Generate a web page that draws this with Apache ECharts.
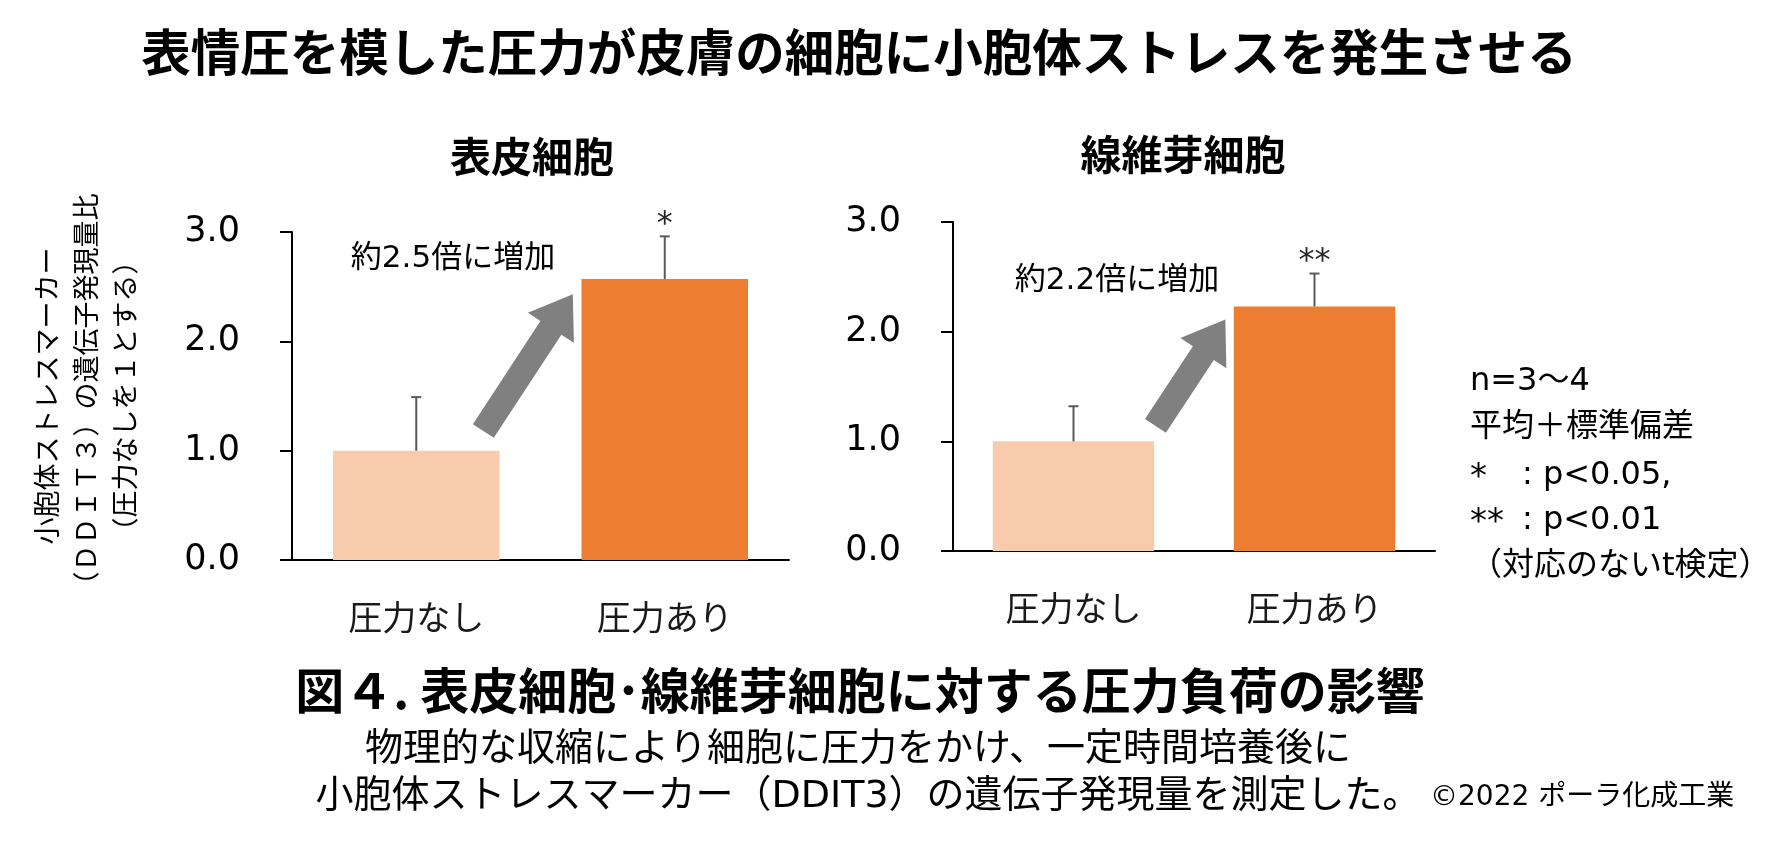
<!DOCTYPE html>
<html>
<head>
<meta charset="utf-8">
<script src="https://cdn.jsdelivr.net/npm/echarts@6/dist/echarts.min.js"></script>
<style>
html, body { margin: 0; padding: 0; background: #fff; }
#main { width: 1786px; height: 846px; }
</style>
</head>
<body>
<div id="main"></div>
<script>
// values
var categories = ['圧力なし', '圧力あり'];
var yTickLabels = ['0.0', '1.0', '2.0', '3.0'];

var epiMean = [1.0, 2.57];
var epiSd = [0.49, 0.39];
var epiMarks = ['', '*'];

var fibMean = [1.0, 2.23];
var fibSd = [0.32, 0.30];
var fibMarks = ['', '**'];

// arrow ends: [offset in bands from first category, value]
var epiArrow = [[0.27, 1.18], [0.63, 2.43]];
var fibArrow = [[0.34, 1.14], [0.63, 2.11]];

var LATIN = 'DejaVu Sans, "Noto Sans CJK JP"';
var CJK = '"Noto Sans CJK JP"';

function barSeries(idx, mean) {
    var colors = ['#F8CBAD', '#ED7D31'];
    return {
        type: 'bar',
        xAxisIndex: idx,
        yAxisIndex: idx,
        barWidth: '67%',
        z: 2,
        data: mean.map(function (v, i) {
            return {value: v, itemStyle: {color: colors[i]}};
        })
    };
}

function errorSeries(idx, mean, sd, marks) {
    return {
        type: 'custom',
        xAxisIndex: idx,
        yAxisIndex: idx,
        z: 5,
        silent: true,
        data: mean.map(function (m, i) {
            return [i, m, m + sd[i]];
        }),
        renderItem: function (params, api) {
            var lo = api.coord([api.value(0), api.value(1)]);
            var hi = api.coord([api.value(0), api.value(2)]);
            var st = {stroke: '#595959', lineWidth: 2};
            var kids = [
                {type: 'line', shape: {x1: lo[0], y1: lo[1], x2: hi[0], y2: hi[1]}, style: st},
                {type: 'line', shape: {x1: hi[0] - 5, y1: hi[1], x2: hi[0] + 5, y2: hi[1]}, style: st}
            ];
            var mark = marks[params.dataIndex];
            if (mark) {
                kids.push({
                    type: 'text', x: hi[0], y: hi[1] - 12,
                    style: {text: mark, fontSize: 32, fontFamily: LATIN, fill: '#262626',
                        align: 'center', verticalAlign: 'middle'}
                });
            }
            return {type: 'group', children: kids};
        }
    };
}

function arrowSeries(idx, pts) {
    return {
        type: 'custom',
        xAxisIndex: idx,
        yAxisIndex: idx,
        z: 4,
        silent: true,
        data: [[0, pts[0][1], pts[1][1]]],
        renderItem: function (params, api) {
            var band = api.size([1, 0])[0];
            var a = api.coord([0, api.value(1)]);
            var b = api.coord([0, api.value(2)]);
            var x0 = a[0] + pts[0][0] * band, y0 = a[1];
            var x1 = b[0] + pts[1][0] * band, y1 = b[1];
            var dx = x1 - x0, dy = y1 - y0;
            var len = Math.sqrt(dx * dx + dy * dy);
            var ux = dx / len, uy = dy / len;
            var nx = -uy, ny = ux;
            var h = 12.5, H = 27.5, head = 40;
            var bx = x1 - ux * head, by = y1 - uy * head;
            return {
                type: 'polygon',
                shape: {
                    points: [
                        [x0 + nx * h, y0 + ny * h],
                        [bx + nx * h, by + ny * h],
                        [bx + nx * H, by + ny * H],
                        [x1, y1],
                        [bx - nx * H, by - ny * H],
                        [bx - nx * h, by - ny * h],
                        [x0 - nx * h, y0 - ny * h]
                    ]
                },
                style: {fill: '#808080'}
            };
        }
    };
}

function xAxis(idx) {
    return {
        gridIndex: idx,
        type: 'category',
        data: categories,
        axisLine: {lineStyle: {color: '#000', width: 2}},
        axisTick: {show: false},
        axisLabel: {fontSize: 34, color: '#1a1a1a', margin: 44, fontFamily: LATIN}
    };
}

function yAxis(idx) {
    return {
        gridIndex: idx,
        type: 'value',
        min: 0,
        max: 3,
        interval: 1,
        axisLine: {show: true, lineStyle: {color: '#000', width: 2}},
        axisTick: {show: true, length: 12, lineStyle: {color: '#000', width: 2}},
        splitLine: {show: false},
        axisLabel: {
            fontSize: 35, color: '#000', margin: 52, fontFamily: LATIN,
            formatter: function (v, i) { return yTickLabels[i]; }
        }
    };
}

function txt(x, y, text, size, opts) {
    opts = opts || {};
    return {
        type: 'text',
        x: x,
        y: y,
        style: {
            text: text,
            fontSize: size,
            fontFamily: opts.family || LATIN,
            fontWeight: opts.weight || 'normal',
            fill: opts.color || '#000',
            align: opts.align || 'center',
            textAlign: opts.align || 'center',
            verticalAlign: 'middle',
            textVerticalAlign: 'middle'
        }
    };
}

var yLeft = yAxis(0);
yLeft.name = '小胞体ストレスマーカー\n（ＤＤＩＴ３）の遺伝子発現量比\n（圧力なしを１とする）';
yLeft.nameLocation = 'middle';
yLeft.nameRotate = 90;
yLeft.nameGap = 148;
yLeft.nameTextStyle = {fontSize: 27, lineHeight: 39, color: '#000', fontFamily: CJK};

var chart = echarts.init(document.getElementById('main'));
chart.setOption({
    backgroundColor: '#fff',
    animation: false,
    grid: [
        {left: 292, top: 232, width: 497, height: 328},
        {left: 953, top: 222, width: 482, height: 329}
    ],
    xAxis: [xAxis(0), xAxis(1)],
    yAxis: [yLeft, yAxis(1)],
    series: [
        barSeries(0, epiMean),
        errorSeries(0, epiMean, epiSd, epiMarks),
        arrowSeries(0, epiArrow),
        barSeries(1, fibMean),
        errorSeries(1, fibMean, fibSd, fibMarks),
        arrowSeries(1, fibArrow)
    ],
    graphic: [
        txt(859, 52, '表情圧を模した圧力が皮膚の細胞に小胞体ストレスを発生させる', 49.5, {family: CJK, weight: 'bold'}),
        txt(532, 156, '表皮細胞', 41, {family: CJK, weight: 'bold'}),
        txt(1183, 154, '線維芽細胞', 41, {family: CJK, weight: 'bold'}),
        txt(453, 259, '約2.5倍に増加', 31),
        txt(1117, 281, '約2.2倍に増加', 31),
        txt(1470, 382, 'n=3～4', 32, {align: 'left'}),
        txt(1470, 428, '平均＋標準偏差', 32, {align: 'left'}),
        txt(1470, 478, '*', 34, {align: 'left'}),
        txt(1522, 476, ': p<0.05,', 32, {align: 'left'}),
        txt(1470, 523, '**', 34, {align: 'left'}),
        txt(1522, 521, ': p<0.01', 32, {align: 'left'}),
        txt(1470, 567, '（対応のないt検定）', 32, {align: 'left'}),
        txt(860, 690, '図４. 表皮細胞･線維芽細胞に対する圧力負荷の影響', 49, {family: CJK, weight: 'bold'}),
        txt(858, 750, '物理的な収縮により細胞に圧力をかけ、一定時間培養後に', 38),
        txt(868, 797, '小胞体ストレスマーカー（DDIT3）の遺伝子発現量を測定した。', 38),
        txt(1430, 798, '©2022 ポーラ化成工業', 28, {align: 'left'})
    ]
});
</script>
</body>
</html>
